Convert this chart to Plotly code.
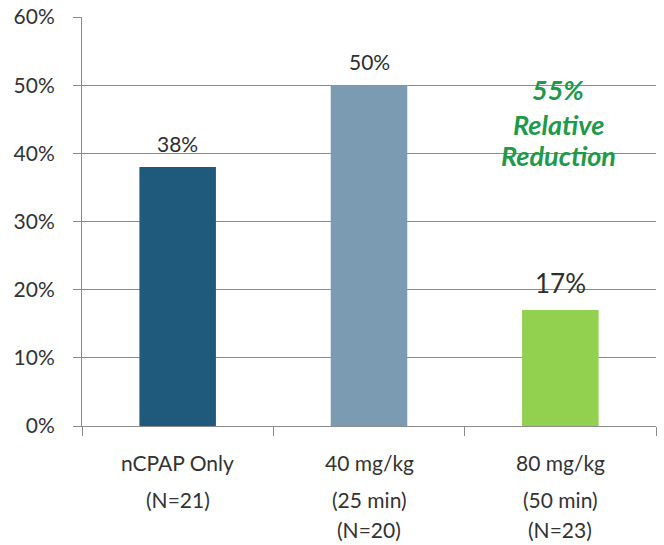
import plotly.graph_objects as go

categories = ["nCPAP Only", "40 mg/kg", "80 mg/kg"]
values = [0.38, 0.50, 0.17]
value_labels = ["38%", "50%", "17%"]
label_sizes = [21, 21, 26]
bar_colors = ["#1F5A7C", "#7B9BB3", "#92D050"]
cat_lines = [["nCPAP Only", "(N=21)"],
             ["40 mg/kg", "(25 min)", "(N=20)"],
             ["80 mg/kg", "(50 min)", "(N=23)"]]
y_ticks = [0, 0.1, 0.2, 0.3, 0.4, 0.5, 0.6]
callout_lines = ["55%", "Relative", "Reduction"]
callout_y = [0.493, 0.443, 0.397]

FONT = "Lato"
GRID = "#8C8C8C"
TXT = "#333333"

fig = go.Figure()
fig.add_trace(go.Bar(x=categories, y=values, width=0.4,
                     marker=dict(color=bar_colors, line=dict(width=0)),
                     hoverinfo="skip"))

# value labels
for c, v, t, s in zip(categories, values, value_labels, label_sizes):
    fig.add_annotation(x=c, y=v, xref="x", yref="y", text=t, showarrow=False,
                       yanchor="bottom", yshift=9,
                       font=dict(family=FONT, size=s, color="#2E2E2E"))

# category labels (multi-line, custom spacing)
line_offsets = [-36, -73, -103]
for c, lines in zip(categories, cat_lines):
    for i, ln in enumerate(lines):
        fig.add_annotation(x=c, y=0, xref="x", yref="y", text=ln, showarrow=False,
                           yanchor="middle", yshift=line_offsets[i],
                           font=dict(family=FONT, size=21, color=TXT))

# callout
for ln, yy in zip(callout_lines, callout_y):
    fig.add_annotation(x=categories[2], y=yy, xref="x", yref="y", text=ln,
                       showarrow=False, yanchor="middle", xshift=-2,
                       font=dict(family=FONT, size=27, color="#1E9A4A", weight="bold",
                                 style="italic"))

fig.update_layout(
    width=664, height=545,
    margin=dict(l=82, r=8, t=17, b=119),
    paper_bgcolor="white", plot_bgcolor="white",
    showlegend=False, bargap=0.6,
    font=dict(family=FONT, size=21, color=TXT),
)
fig.update_xaxes(type="category", range=[-0.5, 2.5], showticklabels=False,
                 automargin=False,
                 showline=True, linecolor=GRID, linewidth=1,
                 ticks="outside", tickson="boundaries", ticklen=9, tickcolor=GRID,
                 showgrid=False)
fig.update_yaxes(range=[0, 0.6], tickvals=y_ticks, tickformat=".0%",
                 automargin=False,
                 showline=True, linecolor=GRID, linewidth=1,
                 ticks="outside", ticklen=8, tickcolor=GRID,
                 showgrid=True, gridcolor=GRID, gridwidth=1, zeroline=False,
                 ticklabelstandoff=14,
                 tickfont=dict(family=FONT, size=21, color=TXT))

fig.write_html("out.html", config={"displayModeBar": False},
               post_script="document.body.style.margin='0';document.body.style.overflow='hidden';")
